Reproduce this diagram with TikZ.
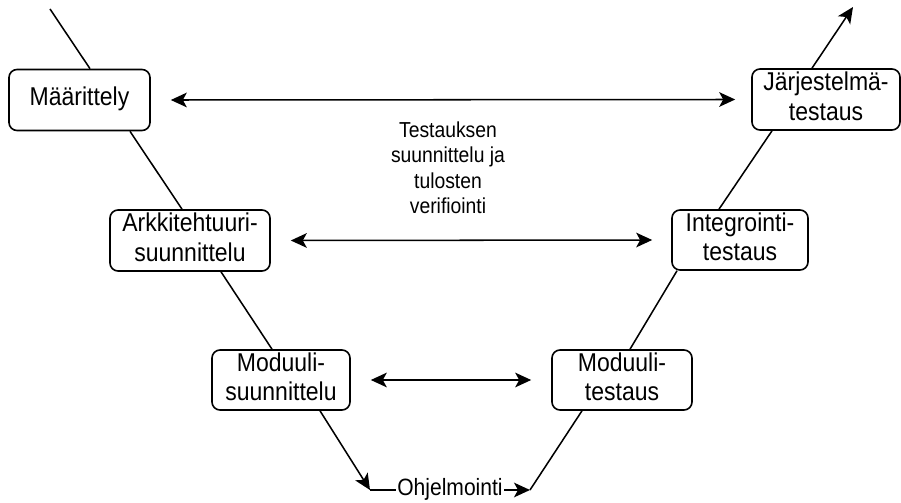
\documentclass[tikz,border=0pt]{standalone}
\usepackage{fontspec}
\usepackage{graphicx}
\setmainfont{Liberation Sans}
\usetikzlibrary{arrows.meta}
\newcommand{\pxu}{0.75pt}
% text set slightly taller than wide
\newcommand{\tall}[1]{\scalebox{1}[1.12]{\begin{tabular}{@{}c@{}}#1\end{tabular}}}
\begin{document}
\begin{tikzpicture}[x=0.75pt,y=-0.75pt,
  stage/.style={draw, line width=1.2pt, rounded corners=6pt, align=center,
    inner sep=0pt, font=\fontsize{17.25}{20}\selectfont},
  vline/.style={line width=1.15pt},
  head/.tip={Stealth[length=12pt,width=11pt,inset=3pt]},
  tip/.style={vline,-{head}},
  twoway/.style={vline,{head}-{head}},
  note/.style={align=center, inner sep=1pt, font=\fontsize{14.5}{16.8}\selectfont}
]
\useasboundingbox (0,0) rectangle (901,503);

% stages of the V model
\node[stage, minimum width=141*\pxu, minimum height=61*\pxu] (A) at (79.5,100) {\tall{Määrittely}};
\node[stage, minimum width=160*\pxu, minimum height=61*\pxu] (B) at (190,240.5) {\tall{Arkkitehtuuri-\\suunnittelu}};
\node[stage, minimum width=138*\pxu, minimum height=60*\pxu] (C) at (281,380) {\tall{Moduuli-\\suunnittelu}};
\node[stage, minimum width=140*\pxu, minimum height=60*\pxu] (D) at (622,380) {\tall{Moduuli-\\testaus}};
\node[stage, minimum width=136*\pxu, minimum height=60*\pxu] (E) at (740,240) {\tall{Integrointi-\\testaus}};
\node[stage, minimum width=148*\pxu, minimum height=61*\pxu] (F) at (826,99.5) {\tall{Järjestelmä-\\testaus}};

\node[note] (T) at (448,170.5) {\tall{Testauksen\\suunnittelu ja\\tulosten\\verifiointi}};

% free ends of the V
\coordinate (start) at (50,9);
\coordinate (finish) at (853,7);
\coordinate (L) at (370,490);
\coordinate (R) at (530,490);

% left leg
\draw[vline] (start) -- ([xshift=10.5*\pxu]A.north);
\draw[vline] ([xshift=50.5*\pxu]A.south) -- ([xshift=-8*\pxu]B.north);
\draw[vline] ([xshift=31*\pxu]B.south) -- ([xshift=-9*\pxu]C.north);
\draw[tip] ([xshift=39*\pxu]C.south) -- (L);

% bottom: coding
\draw[tip] (L) -- node[fill=white, inner sep=1pt, font=\fontsize{15.8}{18}\selectfont] (O) {\tall{Ohjelmointi}} (R);

% right leg
\draw[vline] (R) -- ([xshift=-40*\pxu]D.south);
\draw[vline] ([xshift=8*\pxu]D.north) -- ([xshift=-63*\pxu]E.south);
\draw[vline] ([xshift=-21*\pxu]E.north) -- ([xshift=-54*\pxu]F.south);
\draw[tip] ([xshift=-14*\pxu]F.north) -- (finish);

% verification links between the legs
\draw[twoway] ([xshift=20*\pxu]A.east) -- ([xshift=-16*\pxu]F.west);
\draw[twoway] ([xshift=20*\pxu]B.east) -- ([xshift=-19*\pxu]E.west);
\draw[twoway] ([xshift=20*\pxu]C.east) -- ([xshift=-20*\pxu]D.west);
\end{tikzpicture}
\end{document}
